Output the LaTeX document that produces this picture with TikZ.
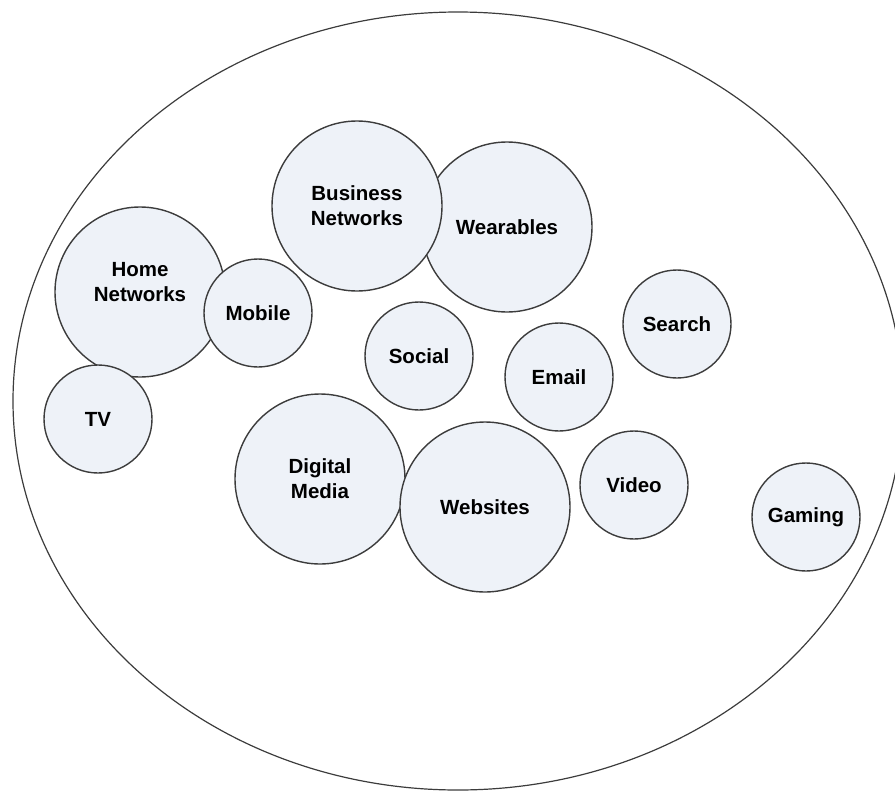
\documentclass[tikz,border=0pt]{standalone}
\usepackage{fontspec}
\setmainfont{Liberation Sans}
\definecolor{bubblefill}{RGB}{238,242,248}
\definecolor{inkline}{RGB}{60,60,60}
\begin{document}
\begin{tikzpicture}[x=1pt, y=-1pt,
  bubble/.style={circle, draw=inkline, line width=1.4pt, fill=bubblefill,
    inner sep=0pt, align=center, text=black,
    font=\fontsize{20.5}{25}\selectfont\bfseries},
  big/.style={bubble, minimum size=170pt},
  small/.style={bubble, minimum size=108pt}]
\useasboundingbox (0,0) rectangle (895,793);
\clip (0,0) rectangle (895,793);
% outer boundary
\draw[inkline, line width=1.2pt] (458,401) ellipse [x radius=445pt, y radius=389pt];
% topic bubbles
\node[big]   (home)   at (140,292)
  {\smash{\raisebox{3pt}{\begin{tabular}{@{}c@{}}Home\\Networks\end{tabular}}}};
\node[small] (mobile) at (258,313) {Mobile};
\node[small] (tv)     at (98,419)  {TV};
\node[big]   (wear)   at (507,227) {Wearables};
\node[big]   (biz)    at (357,206) {Business\\Networks};
\node[big]   (media)  at (320,479) {Digital\\Media};
\node[big]   (web)    at (485,507) {Websites};
\node[small] (social) at (419,356) {Social};
\node[small] (email)  at (559,377) {Email};
\node[small] (search) at (677,324) {Search};
\node[small] (video)  at (634,485) {Video};
\node[small] (gaming) at (806,517) {Gaming};
\end{tikzpicture}
\end{document}
